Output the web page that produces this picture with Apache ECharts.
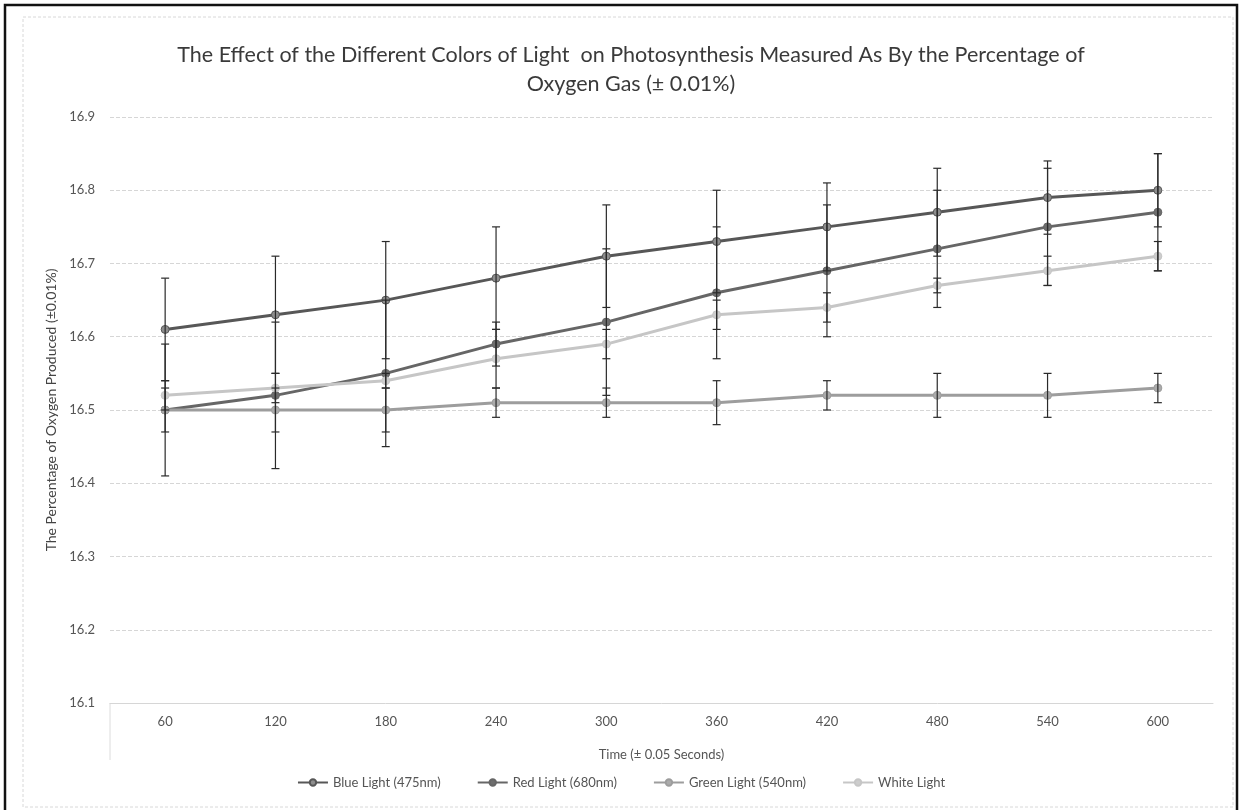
<!DOCTYPE html>
<html>
<head>
<meta charset="utf-8">
<script src="https://cdn.jsdelivr.net/npm/echarts@6/dist/echarts.min.js"></script>
<style>
  html, body { margin: 0; padding: 0; background: #fff; }
  #chart { width: 1242px; height: 810px; }
</style>
</head>
<body>
<div id="chart"></div>
<script>
// categories (seconds)
const times = ['60', '120', '180', '240', '300', '360', '420', '480', '540', '600']
// % oxygen per colour of light
const blueLight = [16.61, 16.63, 16.65, 16.68, 16.71, 16.73, 16.75, 16.77, 16.79, 16.80]
const redLight = [16.50, 16.52, 16.55, 16.59, 16.62, 16.66, 16.69, 16.72, 16.75, 16.77]
const greenLight = [16.50, 16.50, 16.50, 16.51, 16.51, 16.51, 16.52, 16.52, 16.52, 16.53]
const whiteLight = [16.52, 16.53, 16.54, 16.57, 16.59, 16.63, 16.64, 16.67, 16.69, 16.71]
// error bar half widths
const blueErr = [0.07, 0.08, 0.08, 0.07, 0.07, 0.07, 0.06, 0.06, 0.05, 0.05]
const redErr = [0.09, 0.10, 0.10, 0.03, 0.10, 0.09, 0.09, 0.08, 0.08, 0.08]
const greenErr = [0.03, 0.03, 0.03, 0.02, 0.02, 0.03, 0.02, 0.03, 0.03, 0.02]
const whiteErr = [0.02, 0.02, 0.01, 0.04, 0.02, 0.02, 0.02, 0.01, 0.02, 0.02]

const seriesNames = ['Blue Light (475nm)', 'Red Light (680nm)', 'Green Light (540nm)', 'White Light']
const font = 'Lato, "Open Sans", sans-serif'

const lineSeries = (name, data, lineColor, markColor) => ({
  name: name,
  type: 'line',
  data: data,
  symbol: 'circle',
  symbolSize: 8,
  z: 3,
  lineStyle: {color: lineColor, width: 3},
  itemStyle: {color: markColor, borderColor: lineColor, borderWidth: 1}
})

const errSeries = (vals, errs) => ({
  type: 'custom',
  z: 5,
  silent: true,
  data: vals.map((v, i) => [i, +(v - errs[i]).toFixed(2), +(v + errs[i]).toFixed(2)]),
  renderItem: (params, api) => {
    const lo = api.coord([api.value(0), api.value(1)])
    const hi = api.coord([api.value(0), api.value(2)])
    const w = 4
    const style = {stroke: '#2a2a2a', lineWidth: 1.2}
    return {
      type: 'group',
      children: [
        {type: 'line', shape: {x1: hi[0], y1: hi[1], x2: lo[0], y2: lo[1]}, style: style},
        {type: 'line', shape: {x1: hi[0] - w, y1: hi[1], x2: hi[0] + w, y2: hi[1]}, style: style},
        {type: 'line', shape: {x1: lo[0] - w, y1: lo[1], x2: lo[0] + w, y2: lo[1]}, style: style}
      ]
    }
  }
})

const chart = echarts.init(document.getElementById('chart'))
chart.setOption({
  backgroundColor: '#fff',
  animation: false,
  title: {
    text: 'The Effect of the Different Colors of Light  on Photosynthesis Measured As By the Percentage of\nOxygen Gas (± 0.01%)',
    left: 626,
    top: 36,
    textAlign: 'center',
    textStyle: {fontFamily: font, fontSize: 21.5, fontWeight: 'normal', color: '#3a3a3a', lineHeight: 29}
  },
  grid: {left: 110, right: 29, top: 117, bottom: 107},
  legend: {
    data: seriesNames,
    bottom: 16,
    left: 'center',
    itemWidth: 30,
    itemHeight: 8,
    itemGap: 36,
    textStyle: {fontFamily: font, fontSize: 13, color: '#555'}
  },
  xAxis: {
    type: 'category',
    data: times,
    boundaryGap: true,
    name: 'Time (± 0.05 Seconds)',
    nameLocation: 'middle',
    nameGap: 45,
    nameTextStyle: {fontFamily: font, fontSize: 13, color: '#555'},
    axisLine: {show: true, lineStyle: {color: '#d6d6d6'}},
    axisTick: {show: false},
    axisLabel: {fontFamily: font, fontSize: 13, color: '#555', margin: 12}
  },
  yAxis: {
    type: 'value',
    min: 16.1,
    max: 16.9,
    interval: 0.1,
    name: 'The Percentage of Oxygen Produced (±0.01%)',
    nameLocation: 'middle',
    nameGap: 46,
    nameTextStyle: {fontFamily: font, fontSize: 14, color: '#444'},
    axisLine: {show: false},
    axisTick: {show: false},
    axisLabel: {fontFamily: font, fontSize: 13, color: '#555', margin: 15, formatter: v => v.toFixed(1)},
    splitLine: {lineStyle: {color: '#d6d6d6', type: 'dashed', width: 1}}
  },
  graphic: [
    // scanned page frame and chart area border
    {type: 'polyline', shape: {points: [[5, 810], [5, 5], [1237, 5], [1237, 810]]}, style: {stroke: '#111', fill: null, lineWidth: 2.5}, silent: true},
    {type: 'rect', shape: {x: 23, y: 17, width: 1210, height: 790}, style: {stroke: '#d8d8d8', fill: null, lineWidth: 1, lineDash: [3, 2]}, silent: true},
    {type: 'line', shape: {x1: 110, y1: 703, x2: 110, y2: 760}, style: {stroke: '#dcdcdc', lineWidth: 1}, silent: true}
  ],
  series: [
    lineSeries(seriesNames[0], blueLight, '#575757', '#8e8e8e'),
    lineSeries(seriesNames[1], redLight, '#666666', '#6e6e6e'),
    lineSeries(seriesNames[2], greenLight, '#9d9d9d', '#ababab'),
    lineSeries(seriesNames[3], whiteLight, '#c6c6c6', '#cdcdcd'),
    errSeries(blueLight, blueErr),
    errSeries(redLight, redErr),
    errSeries(greenLight, greenErr),
    errSeries(whiteLight, whiteErr)
  ]
})
</script>
</body>
</html>
